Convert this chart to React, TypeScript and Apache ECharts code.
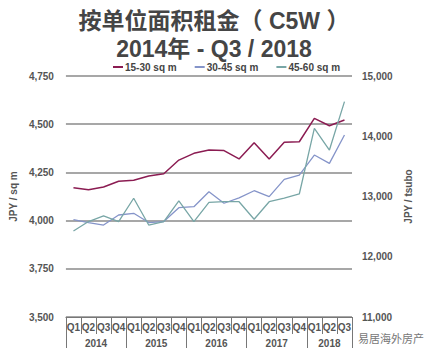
import React, { useEffect, useRef } from "react";
import * as echarts from "echarts";

const quarters = ["Q1","Q2","Q3","Q4","Q1","Q2","Q3","Q4","Q1","Q2","Q3","Q4","Q1","Q2","Q3","Q4","Q1","Q2","Q3"];
const years = ["2014", "2015", "2016", "2017", "2018"];
const yearStarts = [0, 4, 8, 12, 16];
const yearEnds = [4, 8, 12, 16, 19];
const s1530 = [4170,4160,4174,4204,4209,4231,4243,4314,4349,4366,4363,4320,4404,4320,4406,4409,4530,4492,4522];
const s3045 = [4005,3990,3977,4029,4038,3990,3995,4067,4072,4150,4090,4118,4155,4124,4214,4236,4340,4297,4444];
const s4560 = [3946,3995,4024,3995,4116,3977,3995,4102,3995,4095,4098,4098,4007,4098,4116,4138,4478,4366,4617];
const seriesNames = ["15-30 sq m", "30-45 sq m", "45-60 sq m"];

const FONT = "Liberation Sans, Arial, Noto Sans CJK SC, sans-serif";

export default function App() {
  const ref = useRef<HTMLDivElement>(null);
  useEffect(() => {
    document.body.style.margin = "0";
    if (!ref.current) return;
    const chart = echarts.init(ref.current, null, { renderer: "svg" });
    const yearLabelAt: Record<string, string> = {};
    years.forEach((y, i) => {
      yearLabelAt[String((yearStarts[i] + yearEnds[i]) / 2)] = y;
    });
    const numFmt = (v: number) => v.toLocaleString("en-US");
    chart.setOption({
      animation: false,
      title: [
        {
          text: "按单位面积租金（ C5W ）",
          left: "center",
          top: 9,
          padding: 0,
          textStyle: { fontFamily: FONT, fontSize: 23, lineHeight: 24, fontWeight: "bold", color: "#454545" },
        },
        {
          text: "2014年 - Q3 / 2018",
          left: "center",
          top: 37,
          padding: 0,
          textStyle: { fontFamily: FONT, fontSize: 23, lineHeight: 24, fontWeight: "bold", color: "#454545" },
        },
      ],
      legend: {
        top: 62,
        left: 113,
        padding: 0,
        itemWidth: 10,
        itemHeight: 2,
        itemGap: 18,
        icon: "rect",
        textStyle: { fontFamily: FONT, fontSize: 10, color: "#444", fontWeight: "bold", padding: [0, 0, 0, -3] },
        data: seriesNames,
      },
      grid: { left: 58, right: 76, top: 76, bottom: 42, containLabel: false },
      xAxis: [
        {
          type: "category",
          data: quarters,
          position: "bottom",
          boundaryGap: true,
          axisLine: { show: true, lineStyle: { color: "#777", width: 1 } },
          axisTick: { show: true, interval: 0, length: 17, lineStyle: { color: "#777" } },
          axisLabel: { interval: 0, margin: 5, fontFamily: FONT, fontSize: 10, fontWeight: "bold", color: "#555" },
        },
        {
          type: "value",
          min: 0,
          max: 19,
          interval: 4,
          position: "bottom",
          axisLine: { show: false },
          axisTick: { show: true, length: 31, lineStyle: { color: "#777" } },
          axisLabel: { show: false },
          splitLine: { show: false },
        },
        {
          type: "value",
          min: 0,
          max: 19,
          interval: 0.5,
          position: "bottom",
          axisLine: { show: false },
          axisTick: { show: false },
          splitLine: { show: false },
          axisLabel: {
            margin: 21,
            fontFamily: FONT,
            fontSize: 10,
            fontWeight: "bold",
            color: "#555",
            formatter: (v: number) => yearLabelAt[String(v)] || "",
          },
        },
      ],
      yAxis: [
        {
          type: "value",
          min: 3500,
          max: 4750,
          interval: 250,
          position: "left",
          name: "JPY / sq m",
          nameLocation: "middle",
          nameGap: 38,
          nameTextStyle: { fontFamily: FONT, fontSize: 10, fontWeight: "bold", color: "#555" },
          axisLine: { show: false },
          axisTick: { show: false },
          axisLabel: { fontFamily: FONT, fontSize: 10, fontWeight: "bold", color: "#555", margin: 12, formatter: numFmt },
          splitLine: { show: true, lineStyle: { color: "#8a8a8a", width: 1.5 } },
        },
        {
          type: "value",
          min: 11000,
          max: 15000,
          interval: 1000,
          position: "right",
          name: "JPY / tsubo",
          nameLocation: "middle",
          nameGap: 42,
          nameTextStyle: { fontFamily: FONT, fontSize: 10, fontWeight: "bold", color: "#555" },
          axisLine: { show: false },
          axisTick: { show: false },
          axisLabel: { fontFamily: FONT, fontSize: 10, fontWeight: "bold", color: "#555", margin: 10, formatter: numFmt },
          splitLine: { show: false },
        },
      ],
      series: [
        {
          name: seriesNames[0],
          type: "line",
          data: s1530,
          showSymbol: false,
          symbol: "none",
          lineStyle: { color: "#8b1c52", width: 1.5 },
          itemStyle: { color: "#8b1c52" },
        },
        {
          name: seriesNames[1],
          type: "line",
          data: s3045,
          showSymbol: false,
          symbol: "none",
          lineStyle: { color: "#8594c9", width: 1.3 },
          itemStyle: { color: "#8594c9" },
        },
        {
          name: seriesNames[2],
          type: "line",
          data: s4560,
          showSymbol: false,
          symbol: "none",
          lineStyle: { color: "#78a6a6", width: 1.3 },
          itemStyle: { color: "#78a6a6" },
        },
      ],
      graphic: [
        {
          type: "text",
          left: 358,
          top: 333,
          style: { text: "易居海外房产", fontFamily: FONT, fontSize: 11, fill: "#777" },
        },
      ],
    });
    return () => chart.dispose();
  }, []);
  return <div ref={ref} style={{ width: 428, height: 359 }} />;
}
